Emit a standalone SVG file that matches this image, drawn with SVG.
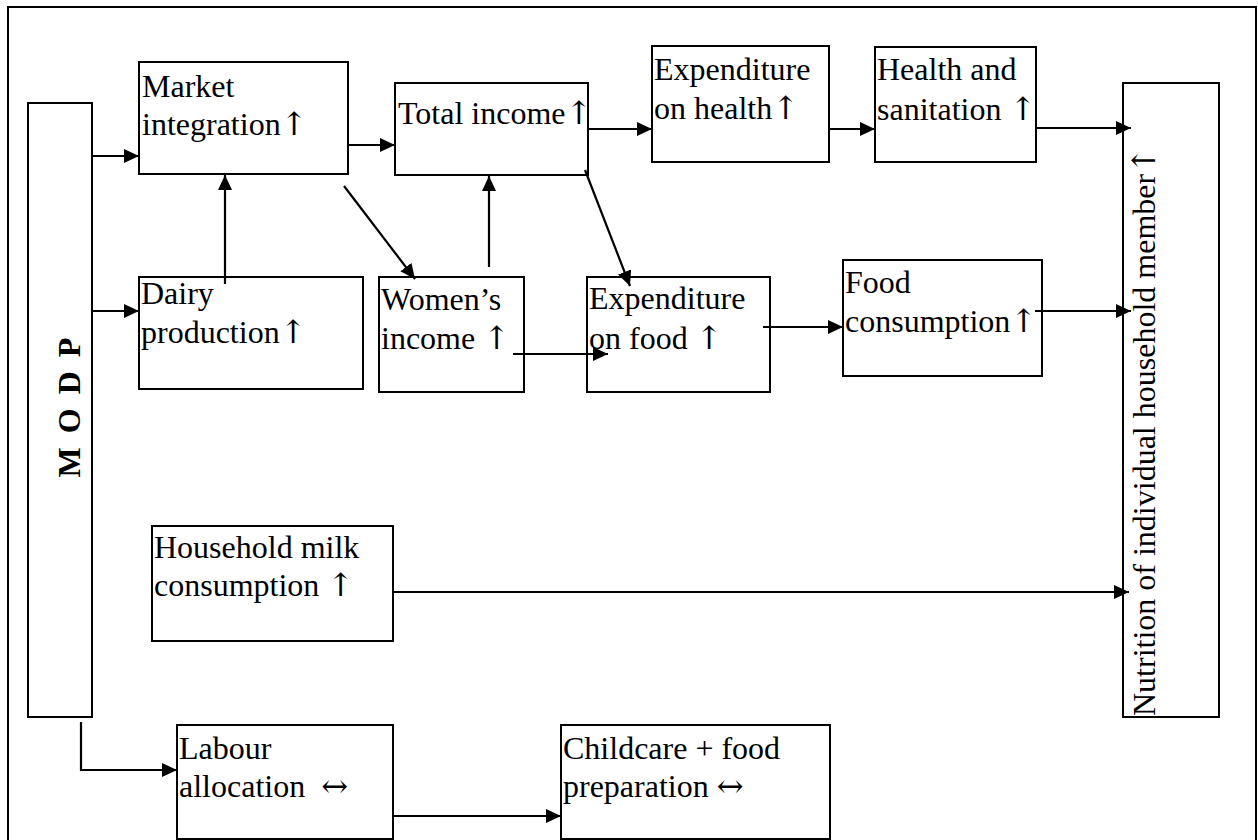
<svg xmlns="http://www.w3.org/2000/svg" width="1258" height="840" viewBox="0 0 1258 840">
<style>
.box{fill:#fff;stroke:#000;stroke-width:2}
.t{font-family:"Liberation Serif","Times New Roman",serif;font-size:32px;fill:#000}
.a{font-family:"DejaVu Serif","DejaVu Sans",serif;fill:#000}
.c{fill:none;stroke:#000;stroke-width:2.2}
</style>
<defs>
<marker id="ah" markerUnits="userSpaceOnUse" markerWidth="15" markerHeight="14" refX="15" refY="7" orient="auto">
<path d="M0,0 L15,7 L0,14 z" fill="#000"/>
</marker>
</defs>
<rect x="0" y="0" width="1258" height="840" fill="#fff"/>
<path d="M8,845 V7 H1256 V845" fill="none" stroke="#000" stroke-width="2"/>

<g id="modp"><rect class="box" x="28" y="103" width="64" height="614"/>
<text class="t" transform="translate(80,406) rotate(-90)" text-anchor="middle" font-weight="bold" font-size="35" letter-spacing="3">M O D P</text></g>

<g id="market"><rect class="box" x="139" y="62" width="209" height="112"/>
<text class="t" x="142" y="97">Market</text><text class="t" x="142" y="135">integration<tspan class="a">↑</tspan></text></g>

<g id="total"><rect class="box" x="395" y="83" width="193" height="92"/>
<text class="t" x="398" y="124">Total income<tspan class="a">↑</tspan></text></g>

<g id="exphealth"><rect class="box" x="652" y="46" width="177" height="116"/>
<text class="t" x="654" y="80">Expenditure</text><text class="t" x="654" y="119">on health<tspan class="a">↑</tspan></text></g>

<g id="health"><rect class="box" x="875" y="47" width="161" height="115"/>
<text class="t" x="877" y="80">Health and</text><text class="t" x="877" y="120">sanitation <tspan class="a">↑</tspan></text></g>

<g id="nutrition"><rect class="box" x="1123" y="83" width="96" height="634"/>
<text class="t" transform="translate(1155,716) rotate(-90)">Nutrition of individual household member<tspan class="a">↑</tspan></text></g>

<g id="dairy"><rect class="box" x="139" y="277" width="224" height="112"/>
<text class="t" x="141" y="304">Dairy</text><text class="t" x="141" y="343">production<tspan class="a">↑</tspan></text></g>

<g id="women"><rect class="box" x="379" y="277" width="145" height="115"/>
<text class="t" x="381" y="310">Women’s</text><text class="t" x="381" y="349">income <tspan class="a">↑</tspan></text></g>

<g id="expfood"><rect class="box" x="587" y="277" width="183" height="115"/>
<text class="t" x="589" y="309">Expenditure</text><text class="t" x="589" y="349">on food <tspan class="a">↑</tspan></text></g>

<g id="foodcons"><rect class="box" x="843" y="260" width="199" height="116"/>
<text class="t" x="845" y="293">Food</text><text class="t" x="845" y="332">consumption<tspan class="a">↑</tspan></text></g>

<g id="milk"><rect class="box" x="152" y="526" width="241" height="115"/>
<text class="t" x="154" y="558">Household milk</text><text class="t" x="154" y="596">consumption <tspan class="a">↑</tspan></text></g>

<g id="labour"><rect class="box" x="177" y="725" width="216" height="114"/>
<text class="t" x="179" y="759">Labour</text><text class="t" x="179" y="797" xml:space="preserve">allocation  <tspan class="a">↔</tspan></text></g>

<g id="childcare"><rect class="box" x="561" y="725" width="269" height="114"/>
<text class="t" x="563" y="759">Childcare + food</text><text class="t" x="563" y="797">preparation <tspan class="a">↔</tspan></text></g>

<g id="connectors">
<path class="c" marker-end="url(#ah)" d="M92,156 H139"/>
<path class="c" marker-end="url(#ah)" d="M92,311 H139"/>
<path class="c" marker-end="url(#ah)" d="M348,145 H395"/>
<path class="c" marker-end="url(#ah)" d="M225,284 V175"/>
<path class="c" marker-end="url(#ah)" d="M344,186 L415,279"/>
<path class="c" marker-end="url(#ah)" d="M489,267 V176"/>
<path class="c" marker-end="url(#ah)" d="M588,129 H652"/>
<path class="c" marker-end="url(#ah)" d="M585,170 L630,286"/>
<path class="c" marker-end="url(#ah)" d="M829,129 H875"/>
<path class="c" marker-end="url(#ah)" d="M1036,128 H1131"/>
<path class="c" marker-end="url(#ah)" d="M513,354 H608"/>
<path class="c" marker-end="url(#ah)" d="M763,327 H843"/>
<path class="c" marker-end="url(#ah)" d="M1035,311 H1131"/>
<path class="c" marker-end="url(#ah)" d="M393,592 H1129"/>
<path class="c" marker-end="url(#ah)" d="M81,722 V770 H177"/>
<path class="c" marker-end="url(#ah)" d="M393,816 H561"/>
</g>
</svg>
